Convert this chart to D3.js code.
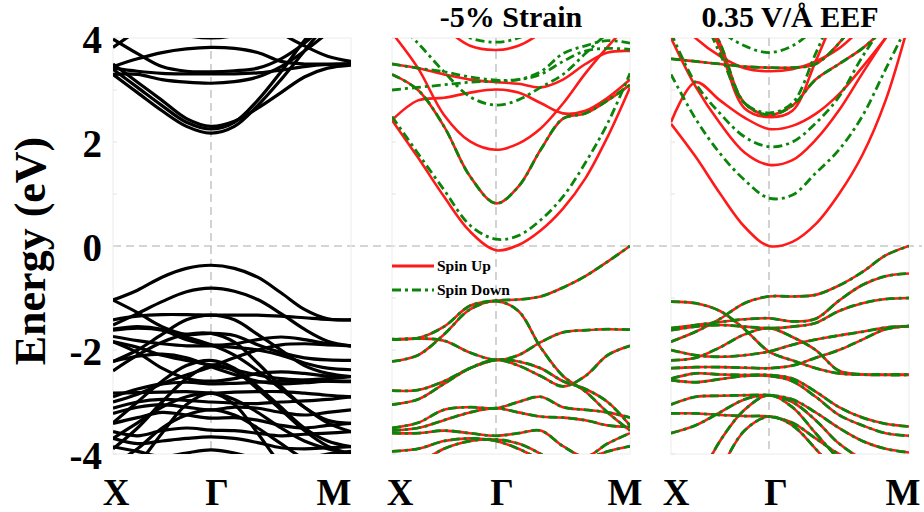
<!DOCTYPE html>
<html>
<head>
<meta charset="utf-8">
<script src="https://cdn.jsdelivr.net/npm/d3@7/dist/d3.min.js"></script>
<style>
  html, body { margin: 0; padding: 0; background: #fff; }
  svg { display: block; }
  text { font-family: "Liberation Serif", "Times New Roman", serif; font-weight: bold; fill: #000; }
</style>
</head>
<body>
<svg id="chart" width="924" height="512"></svg>
<script>
// High-symmetry path and sampling of the k-path (X -> Γ -> M)
const kLabels = ["X", "Γ", "M"];
const kGrid = [0, 0.25, 0.5, 0.75, 1, 1.167, 1.333, 1.5, 1.667, 1.833, 2];
const energyTicks = [4, 2, 0, -2, -4];
const panelTitles = ["", "-5% Strain", "0.35 V/Å EEF"];
const legendLabels = ["Spin Up", "Spin Down"];

// Pristine band structure (eV at each kGrid point)
const pristineBands = [
  // conduction
  [3.30, 2.95, 2.60, 2.30, 2.17, 2.30, 2.70, 3.20, 3.75, 4.30, 4.80],
  [3.40, 3.05, 2.70, 2.38, 2.25, 2.38, 2.80, 3.35, 3.95, 4.50, 5.00],
  [3.50, 3.15, 2.80, 2.45, 2.30, 2.40, 2.65, 2.95, 3.25, 3.42, 3.48],
  [3.30, 3.30, 3.20, 3.15, 3.13, 3.16, 3.25, 3.45, 3.75, 4.10, 4.50],
  [3.42, 3.36, 3.32, 3.31, 3.31, 3.31, 3.33, 3.38, 3.45, 3.49, 3.50],
  [3.45, 3.60, 3.72, 3.79, 3.82, 3.80, 3.72, 3.55, 3.50, 3.50, 3.51],
  [5.00, 4.60, 4.20, 4.05, 4.00, 4.05, 4.20, 4.50, 4.90, 5.30, 5.60],
  [3.98, 3.70, 3.45, 3.36, 3.35, 3.37, 3.42, 3.60, 3.90, 4.30, 4.70],
  [3.82, 4.15, 4.50, 4.75, 4.85, 4.75, 4.50, 4.10, 3.85, 3.65, 3.55],
  // valence
  [-1.04, -0.85, -0.60, -0.43, -0.37, -0.43, -0.60, -0.90, -1.22, -1.40, -1.42],
  [-1.52, -1.30, -1.07, -0.88, -0.81, -0.87, -1.03, -1.30, -1.60, -1.83, -1.92],
  [-1.42, -1.35, -1.32, -1.32, -1.33, -1.33, -1.33, -1.35, -1.38, -1.41, -1.42],
  [-1.04, -1.28, -1.55, -1.70, -1.68, -1.72, -1.90, -2.05, -2.15, -2.19, -2.20],
  [-2.22, -2.00, -1.70, -1.42, -1.33, -1.42, -1.70, -2.00, -2.30, -2.45, -2.51],
  [-1.62, -1.58, -1.62, -1.80, -1.90, -1.88, -1.80, -1.75, -1.80, -1.88, -1.92],
  [-1.74, -1.82, -1.88, -1.92, -1.92, -1.95, -2.00, -2.10, -2.25, -2.35, -2.38],
  [-1.84, -1.95, -2.10, -2.20, -2.29, -2.38, -2.48, -2.55, -2.58, -2.60, -2.61],
  [-2.22, -2.12, -2.08, -2.15, -2.32, -2.47, -2.60, -2.65, -2.63, -2.60, -2.60],
  [-3.00, -2.85, -2.65, -2.48, -2.32, -2.15, -2.00, -1.90, -1.88, -1.90, -1.92],
  [-2.83, -2.82, -2.81, -2.80, -2.83, -2.81, -2.80, -2.80, -2.83, -2.87, -2.90],
  [-2.90, -2.75, -2.65, -2.62, -2.65, -2.64, -2.62, -2.60, -2.58, -2.55, -2.51],
  [-3.12, -3.00, -2.95, -2.97, -3.00, -3.02, -3.03, -3.00, -2.98, -2.95, -2.90],
  [-3.22, -3.10, -3.05, -3.10, -3.15, -3.10, -3.12, -3.20, -3.25, -3.20, -3.15],
  [-3.41, -3.30, -3.20, -3.25, -3.31, -3.30, -3.35, -3.45, -3.50, -3.45, -3.41],
  [-3.57, -3.65, -3.55, -3.50, -3.54, -3.55, -3.60, -3.65, -3.62, -3.60, -3.57],
  [-3.70, -3.80, -3.75, -3.70, -3.67, -3.70, -3.78, -3.88, -3.90, -3.88, -3.86],
  [-3.86, -3.95, -4.05, -3.98, -3.92, -3.98, -4.10, -4.20, -4.10, -4.00, -3.95],
  [-3.70, -3.40, -3.10, -2.90, -2.83, -2.95, -3.20, -3.50, -3.75, -3.90, -4.00],
  [-4.20, -3.90, -3.50, -3.25, -3.15, -3.25, -3.50, -3.80, -4.10, -4.30, -4.40],
  [-1.60, -1.55, -1.60, -1.75, -1.90, -2.10, -2.40, -2.75, -3.10, -3.40, -3.57],
  [-1.84, -2.05, -2.35, -2.55, -2.60, -2.55, -2.45, -2.42, -2.45, -2.50, -2.51],
  [-4.60, -4.20, -3.60, -3.05, -2.83, -3.05, -3.60, -4.20, -4.60, -4.80, -5.00],
  [-3.90, -3.50, -3.00, -2.55, -2.29, -2.40, -2.75, -3.15, -3.55, -3.85, -4.00],
  [-2.40, -2.10, -1.85, -1.70, -1.68, -1.85, -2.25, -2.70, -3.10, -3.35, -3.41],
  [-3.40, -3.00, -2.60, -2.30, -2.20, -2.35, -2.70, -3.10, -3.50, -3.75, -3.86]
];

// -5% strain: valence bands are spin-degenerate
const strainValence = [
  [-1.79, -1.77, -1.55, -1.15, -1.05, -1.03, -0.97, -0.80, -0.58, -0.30, 0.00],
  [-2.22, -2.10, -1.70, -1.22, -1.06, -1.25, -1.95, -2.50, -2.80, -3.20, -3.55],
  [-1.80, -1.78, -1.82, -2.05, -2.19, -2.10, -1.85, -1.66, -1.62, -1.60, -1.61],
  [-2.78, -2.77, -2.60, -2.35, -2.19, -2.22, -2.35, -2.60, -2.75, -3.00, -3.45],
  [-3.05, -2.95, -2.65, -2.35, -2.19, -2.30, -2.50, -2.70, -2.50, -2.10, -1.92],
  [-3.50, -3.40, -3.15, -3.10, -3.12, -3.00, -2.90, -3.10, -3.15, -3.20, -3.30],
  [-3.55, -3.50, -3.35, -3.20, -3.12, -3.20, -3.28, -3.30, -3.35, -3.45, -3.48],
  [-3.60, -3.60, -3.55, -3.60, -3.65, -3.60, -3.55, -3.85, -4.05, -3.80, -3.60],
  [-3.95, -3.90, -3.75, -3.70, -3.75, -3.90, -4.10, -4.20, -4.10, -3.95, -3.85],
  [-4.50, -4.20, -3.90, -3.75, -3.72, -3.80, -4.00, -4.30, -4.60, -4.80, -5.00]
];
const strainUpConduction = [
  [2.42, 1.70, 0.95, 0.28, -0.08, 0.02, 0.30, 0.72, 1.30, 2.10, 3.05],
  [3.30, 3.00, 2.30, 1.34, 0.82, 1.14, 1.85, 2.45, 2.55, 2.80, 3.10],
  [4.10, 3.42, 2.52, 2.01, 1.85, 1.97, 2.26, 2.74, 3.32, 3.83, 4.30],
  [2.42, 2.80, 2.85, 2.95, 3.01, 2.95, 2.75, 2.55, 2.60, 2.85, 3.20],
  [3.50, 3.42, 3.30, 3.20, 3.15, 3.12, 3.05, 3.20, 3.50, 3.72, 3.75],
  [5.00, 4.60, 4.20, 3.85, 3.77, 3.85, 4.10, 4.50, 4.90, 5.30, 5.60]
];
const strainDownConduction = [
  [2.49, 1.78, 1.08, 0.40, 0.13, 0.20, 0.50, 0.95, 1.60, 2.36, 3.32],
  [3.30, 3.00, 2.30, 1.34, 0.82, 1.14, 1.85, 2.45, 2.55, 2.80, 3.10],
  [4.40, 3.90, 3.35, 2.87, 2.71, 2.81, 3.05, 3.30, 3.70, 4.10, 4.50],
  [3.50, 3.42, 3.35, 3.25, 3.19, 3.20, 3.30, 3.55, 3.75, 3.80, 3.78],
  [3.00, 3.05, 3.10, 3.15, 3.17, 3.20, 3.35, 3.70, 3.85, 3.95, 3.90],
  [5.00, 4.60, 4.25, 4.00, 3.92, 4.00, 4.25, 4.60, 5.00, 5.40, 5.70]
];

// 0.35 V/Å external electric field
const eefValence = [
  [-1.84, -1.65, -1.40, -1.10, -0.97, -0.97, -0.94, -0.76, -0.50, -0.18, 0.00],
  [-1.07, -1.10, -1.25, -1.60, -2.03, -2.20, -2.35, -2.45, -2.47, -2.47, -2.47],
  [-1.58, -1.52, -1.46, -1.41, -1.39, -1.45, -1.40, -1.05, -0.75, -0.58, -0.53],
  [-1.62, -1.55, -1.52, -1.55, -1.58, -1.55, -1.48, -1.25, -1.10, -1.02, -1.00],
  [-2.00, -2.10, -2.13, -2.10, -2.03, -1.90, -1.80, -1.72, -1.65, -1.57, -1.54],
  [-2.20, -2.15, -1.95, -1.70, -1.58, -1.75, -2.00, -2.40, -2.47, -2.48, -2.48],
  [-2.35, -2.33, -2.33, -2.34, -2.35, -2.30, -2.15, -2.00, -1.80, -1.60, -1.54],
  [-2.55, -2.45, -2.47, -2.48, -2.48, -2.55, -2.80, -3.10, -3.30, -3.42, -3.47],
  [-2.58, -2.62, -2.56, -2.50, -2.50, -2.60, -2.90, -3.25, -3.45, -3.60, -3.65],
  [-3.05, -2.90, -2.88, -2.87, -2.87, -2.95, -3.20, -3.50, -3.75, -3.90, -3.97],
  [-3.22, -3.22, -3.25, -3.27, -3.28, -3.40, -3.70, -4.00, -4.20, -4.30, -4.30],
  [-3.60, -3.45, -3.20, -2.95, -2.87, -3.00, -3.35, -3.80, -4.10, -4.30, -4.40],
  [-5.20, -4.60, -3.75, -3.15, -2.87, -3.10, -3.60, -4.10, -4.50, -4.80, -5.00],
  [-5.50, -5.00, -4.30, -3.55, -3.28, -3.45, -3.90, -4.40, -4.80, -5.00, -5.20]
];
const eefUpConduction = [
  [2.35, 1.72, 1.01, 0.37, 0.00, 0.08, 0.42, 1.00, 1.75, 2.80, 4.30],
  [2.38, 3.15, 2.80, 2.47, 2.25, 2.31, 2.54, 2.92, 3.44, 4.00, 4.60],
  [4.00, 3.07, 2.36, 1.80, 1.56, 1.65, 2.04, 2.61, 3.32, 4.00, 4.60],
  [5.50, 4.80, 3.80, 2.65, 2.48, 2.60, 3.55, 4.60, 5.50, 6.00, 6.50],
  [3.60, 3.55, 3.50, 3.45, 3.43, 3.43, 3.50, 3.90, 4.50, 5.00, 5.50],
  [4.50, 4.00, 3.65, 3.42, 3.36, 3.40, 3.55, 3.80, 4.20, 4.60, 5.00],
  [5.50, 4.80, 3.90, 2.75, 2.52, 2.70, 3.20, 3.50, 3.80, 4.20, 4.60]
];
const eefDownConduction = [
  [3.30, 2.45, 1.78, 1.27, 0.92, 0.98, 1.40, 1.85, 2.50, 3.40, 4.30],
  [4.10, 3.13, 2.55, 2.10, 1.91, 2.00, 2.36, 2.87, 3.64, 4.30, 4.90],
  [5.40, 4.70, 3.70, 2.75, 2.56, 2.75, 3.70, 4.70, 5.50, 6.00, 6.50],
  [3.60, 3.55, 3.50, 3.45, 3.43, 3.43, 3.50, 3.90, 4.50, 5.00, 5.50],
  [5.20, 4.70, 4.15, 3.85, 3.72, 3.85, 4.20, 4.70, 5.20, 5.60, 6.00],
  [5.50, 4.80, 3.90, 2.75, 2.52, 2.70, 3.20, 3.50, 3.80, 4.20, 4.60]
];

const strainUp = strainValence.concat(strainUpConduction);
const strainDown = strainValence.concat(strainDownConduction);
const eefUp = eefValence.concat(eefUpConduction);
const eefDown = eefValence.concat(eefDownConduction);

// ---- layout ----
const svg = d3.select("#chart");
const plotTop = 38, plotBottom = 454;
const y = d3.scaleLinear().domain([-4, 4]).range([plotBottom, plotTop]);

// each panel: frame edges, Γ position and where its X / Γ / M labels sit
const panels = [
  { x0: 113, xg: 211, x1: 351, title: panelTitles[0], labelX: [116, 217, 334] },
  { x0: 392, xg: 496, x1: 630, title: panelTitles[1], labelX: [400, 502, 625] },
  { x0: 671, xg: 769, x1: 909, title: panelTitles[2], labelX: [676, 776, 903] }
];
panels.forEach(p => {
  p.x = d3.scaleLinear().domain([0, 1, 2]).range([p.x0, p.xg, p.x1]);
});

const red = "#ff1a1a", green = "#0a850a", guide = "#c8c8c8";

// Fermi level guide across all panels
svg.append("line")
  .attr("x1", panels[0].x0).attr("x2", 922)
  .attr("y1", y(0)).attr("y2", y(0))
  .attr("stroke", guide).attr("stroke-width", 1.6)
  .attr("stroke-dasharray", "8,5");

const defs = svg.append("defs");

panels.forEach((p, pi) => {
  const g = svg.append("g");
  defs.append("clipPath").attr("id", "clip" + pi)
    .append("rect")
    .attr("x", p.x0).attr("y", plotTop)
    .attr("width", p.x1 - p.x0).attr("height", plotBottom - plotTop);

  // frame
  g.append("rect")
    .attr("x", p.x0).attr("y", plotTop)
    .attr("width", p.x1 - p.x0).attr("height", plotBottom - plotTop)
    .attr("fill", "none").attr("stroke", "#ececec").attr("stroke-width", 1);

  // faint minor ticks on the energy axis
  d3.range(-4, 5, 1).forEach(e => {
    g.append("line")
      .attr("x1", p.x0).attr("x2", p.x0 + 4)
      .attr("y1", y(e)).attr("y2", y(e))
      .attr("stroke", "#e2e2e2").attr("stroke-width", 1);
  });

  // Γ guide
  g.append("line")
    .attr("x1", p.x(1)).attr("x2", p.x(1))
    .attr("y1", plotTop).attr("y2", plotBottom)
    .attr("stroke", guide).attr("stroke-width", 1.6)
    .attr("stroke-dasharray", "8,5");

  // x axis labels
  const xAxis = d3.axisBottom(p.x).tickValues([0, 1, 2])
    .tickFormat((d, i) => kLabels[i]).tickSize(0).tickPadding(0);
  const ax = g.append("g").attr("transform", `translate(0,${plotBottom})`).call(xAxis);
  ax.select(".domain").remove();
  ax.selectAll(".tick").attr("transform", (d, i) => `translate(${p.labelX[i]},0)`);
  ax.selectAll("text")
    .attr("y", 51)
    .attr("dy", 0)
    .style("font-size", "37px")
    .style("font-family", "'Liberation Serif', serif")
    .style("font-weight", "bold");

  if (p.title) {
    g.append("text")
      .attr("x", (p.x0 + p.x1) / 2).attr("y", 27)
      .attr("text-anchor", "middle")
      .style("font-size", "30px")
      .text(p.title);
  }
});

// energy axis labels
const yAxis = d3.axisLeft(y).tickValues(energyTicks).tickSize(0).tickPadding(0)
  .tickFormat(d => String(d));
const yg = svg.append("g").attr("transform", `translate(102,0)`).call(yAxis);
yg.select(".domain").remove();
yg.selectAll("text")
  .attr("dy", "0.36em")
  .style("font-size", "39px")
  .style("font-family", "'Liberation Serif', serif")
  .style("font-weight", "bold");

svg.append("text")
  .attr("transform", `translate(45,251) rotate(-90)`)
  .attr("text-anchor", "middle")
  .style("font-size", "44px")
  .text("Energy (eV)");

// ---- bands ----
function bandLine(p) {
  return d3.line()
    .x((e, i) => p.x(kGrid[i]))
    .y(e => y(e))
    .curve(d3.curveCatmullRom.alpha(0.5));
}

function drawBands(pi, bands, stroke, width, dash) {
  const p = panels[pi];
  const g = svg.append("g").attr("clip-path", `url(#clip${pi})`);
  g.selectAll("path").data(bands).join("path")
    .attr("d", bandLine(p))
    .attr("fill", "none")
    .attr("stroke", stroke)
    .attr("stroke-width", width)
    .attr("stroke-linejoin", "round")
    .attr("stroke-dasharray", dash || null);
}

const spinDownDash = "9,4,3,4";

drawBands(0, pristineBands, "#000", 3.2, null);
drawBands(1, strainUp, red, 2.6, null);
drawBands(1, strainDown, green, 2.8, spinDownDash);
drawBands(2, eefUp, red, 2.6, null);
drawBands(2, eefDown, green, 2.8, spinDownDash);

// ---- legend ----
const lg = svg.append("g");
const legendItems = [
  { label: legendLabels[0], stroke: red, dash: null, y: 266 },
  { label: legendLabels[1], stroke: green, dash: spinDownDash, y: 290 }
];
legendItems.forEach(it => {
  lg.append("line")
    .attr("x1", 392).attr("x2", 434)
    .attr("y1", it.y).attr("y2", it.y)
    .attr("stroke", it.stroke).attr("stroke-width", 2.8)
    .attr("stroke-dasharray", it.dash);
  lg.append("text")
    .attr("x", 437).attr("y", it.y + 5)
    .style("font-size", "15.5px")
    .text(it.label);
});
</script>
</body>
</html>
